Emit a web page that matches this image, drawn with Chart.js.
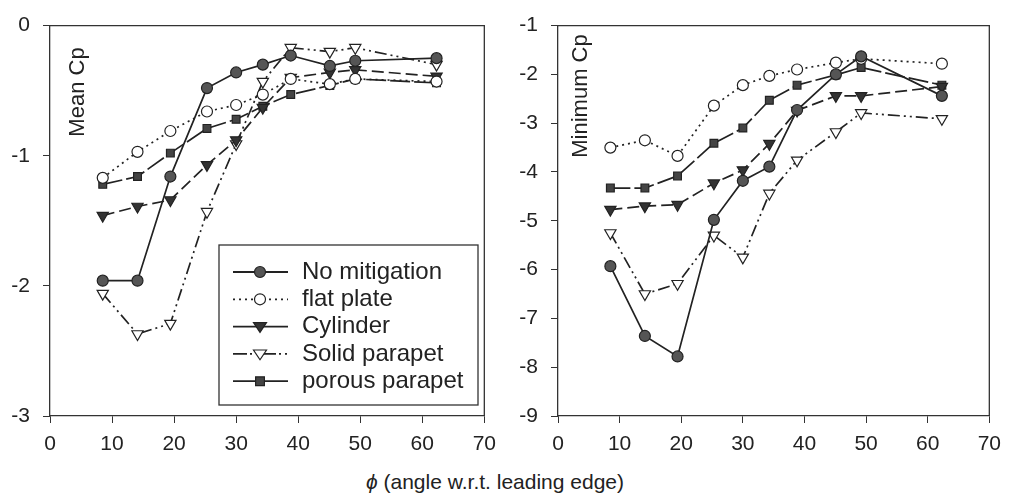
<!DOCTYPE html>
<html>
<head>
<meta charset="utf-8">
<script src="https://cdn.jsdelivr.net/npm/chart.js@4.4.1/dist/chart.umd.min.js"></script>
<style>
  body { margin: 0; background: #fff; width: 1010px; height: 497px; overflow: hidden; position: relative; }
  .panel { position: absolute; top: 0; width: 505px; height: 470px; }
  #xTitle { position: absolute; left: 0; width: 990px; top: 470px; text-align: center;
            font-family: 'Liberation Sans', Arial, sans-serif; font-size: 21px; color: #222; }
</style>
</head>
<body>
<div class="panel" style="left:0"><canvas id="graficoMedia" width="505" height="470"></canvas></div>
<div class="panel" style="left:505px"><canvas id="graficoMinimo" width="505" height="470"></canvas></div>
<div id="xTitle"><i>ϕ</i> (angle w.r.t. leading edge)</div>
<script>
// Ángulos (eje x) comunes a las dos gráficas
const angulos = [8.5, 14.1, 19.4, 25.3, 30.0, 34.3, 38.8, 45.1, 49.2, 62.3];

const nombres = ['No mitigation', 'flat plate', 'Cylinder', 'Solid parapet', 'porous parapet'];

// Mean Cp
const mediaSinMitigacion = [-1.96, -1.96, -1.16, -0.48, -0.36, -0.30, -0.23, -0.31, -0.27, -0.25];
const mediaPlaca = [-1.17, -0.97, -0.81, -0.66, -0.61, -0.53, -0.41, -0.45, -0.41, -0.43];
const mediaCilindro = [-1.46, -1.39, -1.34, -1.07, -0.88, -0.63, -0.40, -0.36, -0.34, -0.39];
const mediaParapetoSolido = [-2.06, -2.37, -2.29, -1.43, -0.91, -0.43, -0.17, -0.20, -0.17, -0.30];
const mediaParapetoPoroso = [-1.22, -1.16, -0.98, -0.79, -0.72, -0.62, -0.53, -0.46, -0.41, -0.44];

// Minimum Cp
const minSinMitigacion = [-5.93, -7.36, -7.78, -4.98, -4.18, -3.89, -2.73, -2.00, -1.63, -2.44];
const minPlaca = [-3.50, -3.35, -3.67, -2.64, -2.22, -2.03, -1.90, -1.76, -1.68, -1.78];
const minCilindro = [-4.77, -4.70, -4.67, -4.23, -3.96, -3.42, -2.74, -2.44, -2.44, -2.25];
const minParapetoSolido = [-5.25, -6.50, -6.29, -5.30, -5.75, -4.44, -3.76, -3.18, -2.79, -2.91];
const minParapetoPoroso = [-4.33, -4.33, -4.08, -3.41, -3.10, -2.53, -2.22, -2.01, -1.86, -2.22];

const ticksX = [0, 10, 20, 30, 40, 50, 60, 70];

const FUENTE = "'Liberation Sans', Arial, sans-serif";
const NEGRO = '#222';

// Estilo de cada serie
const estilos = [
  { dash: [], punto: 'circle', relleno: '#555', radio: 5.5, rot: 0 },
  { dash: [2, 4], punto: 'circle', relleno: '#fff', radio: 5.5, rot: 0 },
  { dash: [12, 5], punto: 'triangle', relleno: '#333', radio: 6.5, rot: 180 },
  { dash: [12, 4, 2, 4, 2, 4], punto: 'triangle', relleno: '#fff', radio: 6.5, rot: 180 },
  { dash: [20, 4], punto: 'rect', relleno: '#444', radio: 5.5, rot: 0 }
];

function armarDatasets(series) {
  return series.map((valores, i) => ({
    label: nombres[i],
    data: valores.map((v, k) => ({ x: angulos[k], y: v })),
    borderColor: NEGRO,
    borderWidth: 1.7,
    borderDash: estilos[i].dash,
    pointStyle: estilos[i].punto,
    pointRotation: estilos[i].rot,
    pointRadius: estilos[i].radio,
    pointBackgroundColor: estilos[i].relleno,
    pointBorderColor: NEGRO,
    pointBorderWidth: 1.2,
    tension: 0,
    fill: false
  }));
}

// Dibuja un marcador para la leyenda
function dibujarMarcador(ctx, est, x, y) {
  const r = est.radio;
  ctx.save();
  ctx.setLineDash([]);
  ctx.fillStyle = est.relleno;
  ctx.strokeStyle = NEGRO;
  ctx.lineWidth = 1.2;
  ctx.beginPath();
  if (est.punto === 'circle') {
    ctx.arc(x, y, r, 0, Math.PI * 2);
  } else if (est.punto === 'triangle') {
    ctx.moveTo(x - r, y - r * 0.6);
    ctx.lineTo(x + r, y - r * 0.6);
    ctx.lineTo(x, y + r * 0.9);
    ctx.closePath();
  } else {
    ctx.rect(x - r * 0.8, y - r * 0.8, r * 1.6, r * 1.6);
  }
  ctx.fill();
  ctx.stroke();
  ctx.restore();
}

// Marco, título del eje y dentro del área y leyenda
const pluginMarco = {
  id: 'marco',
  afterDraw(chart, args, opts) {
    const ctx = chart.ctx;
    const a = chart.chartArea;
    ctx.save();
    ctx.strokeStyle = '#333';
    ctx.lineWidth = 1.3;
    ctx.beginPath();
    ctx.moveTo(a.left, a.top);
    ctx.lineTo(a.right, a.top);
    ctx.lineTo(a.right, a.bottom);
    ctx.stroke();

    // título del eje y
    ctx.translate(opts.tituloX, opts.tituloY);
    ctx.rotate(-Math.PI / 2);
    ctx.fillStyle = NEGRO;
    ctx.font = '22px ' + FUENTE;
    ctx.textAlign = 'center';
    ctx.textBaseline = 'middle';
    ctx.fillText(opts.titulo, 0, 0);
    ctx.restore();

    if (opts.leyenda) {
      const L = opts.leyenda;
      ctx.save();
      ctx.fillStyle = '#fff';
      ctx.fillRect(L.x, L.y, L.w, L.h);
      ctx.strokeStyle = '#333';
      ctx.lineWidth = 1.3;
      ctx.strokeRect(L.x, L.y, L.w, L.h);
      ctx.font = '24px ' + FUENTE;
      ctx.textBaseline = 'middle';
      ctx.textAlign = 'left';
      nombres.forEach((nombre, i) => {
        const yy = L.y + 27 + i * 27.3;
        ctx.strokeStyle = NEGRO;
        ctx.lineWidth = 1.8;
        ctx.setLineDash(i === 3 ? [14, 3, 2, 4, 2, 4] : (i === 1 ? [2, 4] : []));
        ctx.beginPath();
        ctx.moveTo(L.x + 14, yy);
        ctx.lineTo(L.x + 69, yy);
        ctx.stroke();
        dibujarMarcador(ctx, estilos[i], L.x + 41, yy);
        ctx.fillStyle = NEGRO;
        ctx.fillText(nombre, L.x + 83, yy);
      });
      ctx.restore();
    }
  }
};

function crearGrafico(id, series, yMin, yMax, anchoY, padTop, padRight, opcionesMarco) {
  const ctx = document.getElementById(id).getContext('2d');
  return new Chart(ctx, {
    type: 'line',
    data: { datasets: armarDatasets(series) },
    options: {
      responsive: false,
      animation: false,
      layout: { padding: { top: padTop, right: padRight, left: 0, bottom: 0 } },
      plugins: {
        legend: { display: false },
        tooltip: { enabled: false },
        marco: opcionesMarco
      },
      scales: {
        x: {
          type: 'linear',
          min: 0,
          max: 70,
          afterBuildTicks: scale => { scale.ticks = ticksX.map(v => ({ value: v })); },
          afterFit: scale => { scale.height = 54; },
          grid: { drawOnChartArea: false, tickLength: 7, color: '#333' },
          border: { color: '#333', width: 1.3 },
          ticks: { color: NEGRO, padding: 9, font: { family: FUENTE, size: 21 } }
        },
        y: {
          min: yMin,
          max: yMax,
          afterFit: scale => { scale.width = anchoY; },
          grid: { drawOnChartArea: false, tickLength: 7, color: '#333' },
          border: { color: '#333', width: 1.3 },
          ticks: { stepSize: 1, color: NEGRO, padding: 13, font: { family: FUENTE, size: 21 } }
        }
      }
    },
    plugins: [pluginMarco]
  });
}

crearGrafico('graficoMedia',
  [mediaSinMitigacion, mediaPlaca, mediaCilindro, mediaParapetoSolido, mediaParapetoPoroso],
  -3, 0, 50, 19, 20,
  { titulo: 'Mean Cp', tituloX: 78, tituloY: 92,
    leyenda: { x: 219, y: 245, w: 259, h: 160 } });

crearGrafico('graficoMinimo',
  [minSinMitigacion, minPlaca, minCilindro, minParapetoSolido, minParapetoPoroso],
  -9, -1, 53, 21, 15,
  { titulo: 'Minimum Cp', tituloX: 76, tituloY: 96 });
</script>
</body>
</html>
